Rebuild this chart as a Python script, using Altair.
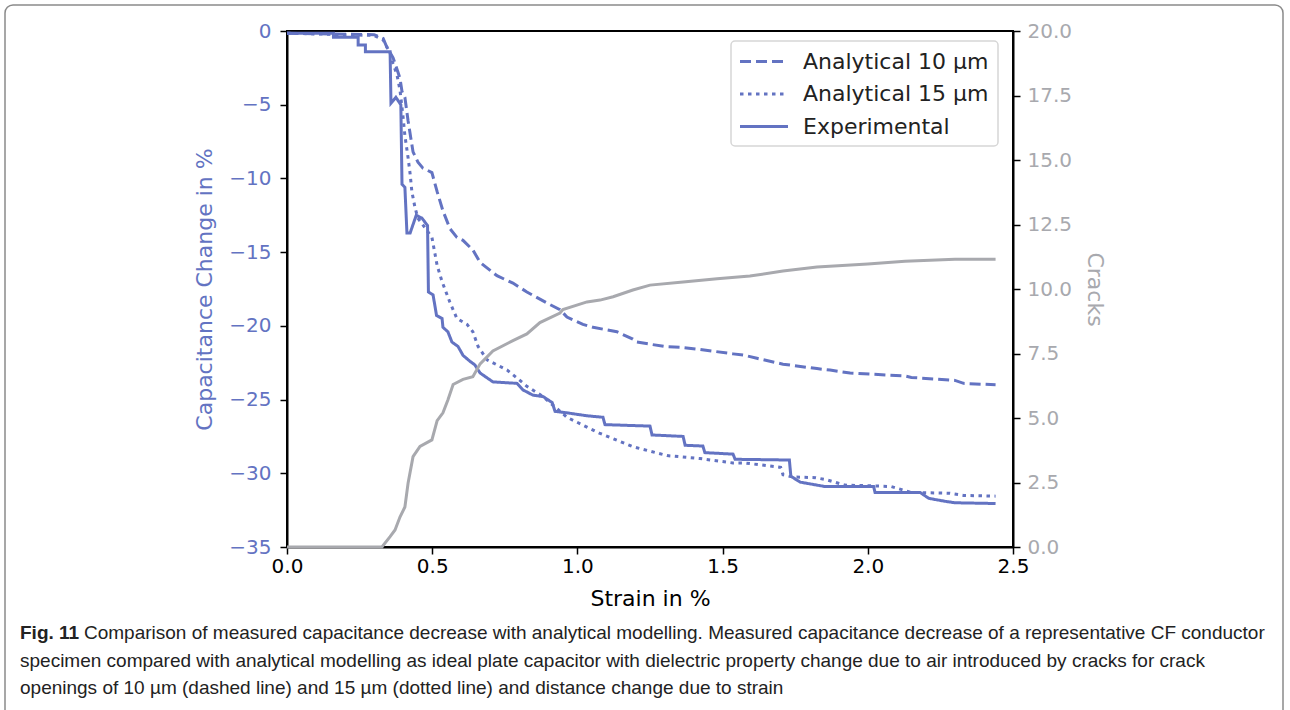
import altair as alt
import pandas as pd

BLUE = "#6373c2"
GRAY = "#a8a9ae"

# ---- data ----
series_names = ["Analytical 10 µm", "Analytical 15 µm", "Experimental"]
series_dash = [[11, 5], [3.5, 4.5], [1, 0]]

a10_x = [0, 0.30, 0.32, 0.331, 0.344, 0.365, 0.372, 0.389, 0.396, 0.406, 0.417, 0.434, 0.451, 0.468,
         0.499, 0.517, 0.537, 0.561, 0.585, 0.606, 0.640, 0.665, 0.723, 0.778, 0.826, 0.895, 0.94,
         0.964, 1.019, 1.054, 1.136, 1.191, 1.205, 1.30, 1.353, 1.422, 1.536, 1.577, 1.618, 1.708,
         1.825, 1.87, 1.939, 2.128, 2.15, 2.30, 2.33, 2.44]
a10_y = [-0.15, -0.25, -0.4, -0.5, -1.1, -1.8, -2.2, -3.2, -4.1, -4.5, -6.1, -8.2, -8.9, -9.3,
         -9.6, -10.9, -12.2, -13.4, -14.0, -14.2, -14.85, -15.7, -16.6, -17.1, -17.7, -18.45, -18.9,
         -19.4, -19.9, -20.1, -20.4, -20.9, -21.1, -21.4, -21.45, -21.6, -21.9, -22.0, -22.2, -22.6,
         -22.9, -23.0, -23.2, -23.4, -23.5, -23.7, -23.9, -24.0]

a15_x = [0, 0.30, 0.331, 0.355, 0.365, 0.379, 0.389, 0.399, 0.406, 0.417, 0.424, 0.430, 0.441,
         0.451, 0.499, 0.517, 0.534, 0.561, 0.585, 0.620, 0.640, 0.658, 0.689, 0.758, 0.802, 0.826,
         0.882, 0.964, 1.078, 1.191, 1.309, 1.422, 1.536, 1.577, 1.70, 1.708, 1.74, 1.82, 1.86,
         1.92, 2.01, 2.08, 2.15, 2.28, 2.33, 2.44]
a15_y = [-0.15, -0.3, -0.6, -1.5, -2.2, -3.0, -4.0, -5.7, -7.1, -8.6, -9.7, -10.9, -12.0,
         -12.7, -14.0, -15.9, -17.0, -18.4, -19.5, -19.9, -20.4, -21.4, -22.3, -23.0, -23.7, -24.1,
         -24.8, -26.2, -27.3, -28.2, -28.8, -29.0, -29.3, -29.3, -29.6, -30.1, -30.25, -30.3, -30.45,
         -30.8, -30.85, -30.9, -31.3, -31.35, -31.5, -31.55]

exp_x = [0, 0.16, 0.16, 0.245, 0.245, 0.27, 0.27, 0.355, 0.358, 0.375, 0.392, 0.396, 0.406, 0.413,
         0.424, 0.445, 0.465, 0.484, 0.487, 0.503, 0.515, 0.534, 0.537, 0.554, 0.568, 0.589, 0.606,
         0.630, 0.647, 0.665, 0.709, 0.792, 0.813, 0.847, 0.882, 0.913, 0.923, 0.964, 1.033, 1.088,
         1.095, 1.25, 1.257, 1.364, 1.371, 1.432, 1.439, 1.536, 1.543, 1.73, 1.735, 1.767, 1.853,
         2.02, 2.025, 2.18, 2.21, 2.266, 2.30, 2.44]
exp_y = [-0.15, -0.15, -0.43, -0.43, -0.95, -0.95, -1.4, -1.4, -4.9, -4.5, -5.0, -10.4, -10.6, -13.7,
         -13.7, -12.5, -12.7, -13.2, -17.7, -17.9, -19.3, -19.5, -20.1, -20.4, -21.1, -21.4, -22.0,
         -22.4, -22.65, -23.2, -23.8, -23.9, -24.35, -24.7, -24.8, -25.2, -25.8, -25.9, -26.1, -26.2,
         -26.7, -26.8, -27.4, -27.5, -28.1, -28.15, -28.6, -28.7, -29.05, -29.1, -30.2, -30.6, -30.9,
         -30.9, -31.3, -31.3, -31.7, -31.9, -32.0, -32.05]

crack_x = [0, 0.327, 0.355, 0.372, 0.389, 0.406, 0.417, 0.434, 0.458, 0.499, 0.517, 0.537, 0.554,
           0.572, 0.606, 0.640, 0.665, 0.709, 0.778, 0.826, 0.871, 0.94, 0.95, 1.033, 1.078, 1.123,
           1.191, 1.25, 1.364, 1.481, 1.594, 1.708, 1.825, 2.0, 2.128, 2.30, 2.44]
crack_n = [0, 0, 0.4, 0.66, 1.16, 1.55, 2.48, 3.5, 3.9, 4.15, 4.9, 5.2, 5.7,
           6.3, 6.5, 6.6, 7.1, 7.6, 8.0, 8.26, 8.7, 9.07, 9.2, 9.5, 9.57, 9.7,
           9.96, 10.15, 10.27, 10.4, 10.5, 10.7, 10.85, 10.97, 11.08, 11.15, 11.15]

x_ticks = [0.0, 0.5, 1.0, 1.5, 2.0, 2.5]
y_ticks = [0, -5, -10, -15, -20, -25, -30, -35]
crack_ticks = [0.0, 2.5, 5.0, 7.5, 10.0, 12.5, 15.0, 17.5, 20.0]

caption_bold = "Fig. 11"
caption_lines = [
    "Comparison of measured capacitance decrease with analytical modelling. Measured capacitance decrease of a representative CF conductor",
    "specimen compared with analytical modelling as ideal plate capacitor with dielectric property change due to air introduced by cracks for crack",
    "openings of 10 µm (dashed line) and 15 µm (dotted line) and distance change due to strain",
]

# ---- build tables ----
rows = []
for name, xs, ys in zip(series_names, [a10_x, a15_x, exp_x], [a10_y, a15_y, exp_y]):
    for i, (x, y) in enumerate(zip(xs, ys)):
        rows.append({"series": name, "strain": x, "cap": y, "idx": i})
cap_df = pd.DataFrame(rows)
crack_df = pd.DataFrame({"strain": crack_x, "cracks": crack_n, "idx": list(range(len(crack_x)))})

FONT = "DejaVu Sans"
x_scale = alt.Scale(domain=[0, 2.5], nice=False, zero=False)

cap_chart = alt.Chart(cap_df).mark_line(strokeWidth=3, color=BLUE, strokeCap="butt").encode(
    x=alt.X("strain:Q", scale=x_scale,
            axis=alt.Axis(values=x_ticks, format=".1f", title="Strain in %",
                          labelColor="black", titleColor="black", labelPadding=2, titlePadding=12)),
    y=alt.Y("cap:Q", scale=alt.Scale(domain=[-35, 0], nice=False, zero=False),
            axis=alt.Axis(values=y_ticks, format="d", title="Capacitance Change in %",
                          orient="left", labelColor=BLUE, titleColor=BLUE,
                          labelPadding=9, titlePadding=12)),
    strokeDash=alt.StrokeDash("series:N",
                              scale=alt.Scale(domain=series_names, range=series_dash),
                              legend=None),
    order="idx:Q",
)

crack_chart = alt.Chart(crack_df).mark_line(strokeWidth=3, color=GRAY).encode(
    x=alt.X("strain:Q", scale=x_scale),
    y=alt.Y("cracks:Q", scale=alt.Scale(domain=[0, 20], nice=False, zero=False),
            axis=alt.Axis(values=crack_ticks, format=".1f", title="Cracks", orient="right",
                          labelColor=GRAY, titleColor=GRAY, labelPadding=7, titlePadding=11)),
    order="idx:Q",
)

# ---- legend (drawn as decoration in the upper right of the plot) ----
legend_box = alt.Chart(pd.DataFrame({"a": [0]})).mark_rect(
    fill="white", stroke="#d6d6d6", strokeWidth=1.5, cornerRadius=4
).encode(x=alt.value(444), x2=alt.value(711), y=alt.value(10), y2=alt.value(115))

legend_layers = [legend_box]
for i, (name, dash) in enumerate(zip(series_names, series_dash)):
    yy = 30.5 + 32.5 * i
    legend_layers.append(
        alt.Chart(pd.DataFrame({"a": [0]})).mark_rule(
            color=BLUE, strokeWidth=3, strokeDash=dash, strokeCap="butt"
        ).encode(x=alt.value(453), x2=alt.value(501), y=alt.value(yy))
    )
    legend_layers.append(
        alt.Chart(pd.DataFrame({"t": [name]})).mark_text(
            align="left", baseline="middle", font=FONT, fontSize=22, color="#222"
        ).encode(x=alt.value(516), y=alt.value(yy), text="t:N")
    )

# ---- caption ----
cap_font = "Liberation Sans"
bold_txt = alt.Chart(pd.DataFrame({"t": [caption_bold]})).mark_text(
    align="left", baseline="middle", font=cap_font, fontSize=19, fontWeight="bold", color="#222"
).encode(x=alt.value(-267), y=alt.value(602), text="t:N")

line_layers = []
for i, (xoff, txt) in enumerate(zip([-203, -267, -267], caption_lines)):
    line_layers.append(
        alt.Chart(pd.DataFrame({"t": [txt]})).mark_text(
            align="left", baseline="middle", font=cap_font, fontSize=19, color="#222"
        ).encode(x=alt.value(xoff), y=alt.value(602 + 27.5 * i), text="t:N")
    )

border = alt.Chart(pd.DataFrame({"a": [0]})).mark_rect(
    filled=False, stroke="#8a8a8a", strokeWidth=1.5, cornerRadius=8
).encode(x=alt.value(-282), x2=alt.value(996), y=alt.value(-26), y2=alt.value(700))

chart = alt.layer(cap_chart, crack_chart, *legend_layers, bold_txt, *line_layers, border).resolve_scale(
    y="independent"
).properties(
    width=726, height=516,
    padding={"left": 287, "top": 31, "right": 277, "bottom": 163},
    autosize=alt.AutoSizeParams(type="none"),
    background="white",
).configure_view(
    stroke="black", strokeWidth=2
).configure_axis(
    grid=False, domainColor="black", domainWidth=2, tickColor="black", tickWidth=1.5,
    tickSize=7, labelFont=FONT, titleFont=FONT, labelFontSize=20, titleFontSize=22,
    titleFontWeight="normal", labelFlush=False, labelOverlap=False
)

chart.save("out.html", embed_options={"renderer": "svg", "actions": False})
